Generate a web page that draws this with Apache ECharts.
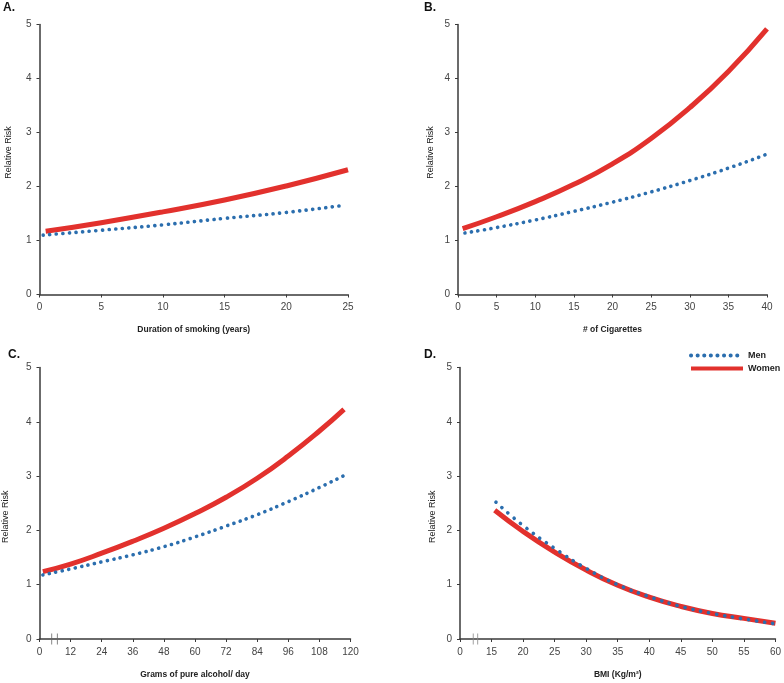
<!DOCTYPE html>
<html><head><meta charset="utf-8">
<script src="https://cdn.jsdelivr.net/npm/echarts@6/dist/echarts.min.js"></script>
<style>html,body{margin:0;padding:0;background:#fff}#c{width:784px;height:683px}</style>
</head><body><div id="c"></div>
<script>
// Panel A: duration of smoking (years)
const aWomenX = [0.5, 5, 10, 15, 20, 25];
const aWomenY = [1.17, 1.33, 1.53, 1.75, 2.01, 2.31];
const aMenX = [0.3, 5, 10, 15, 20, 24.6];
const aMenY = [1.10, 1.19, 1.29, 1.41, 1.52, 1.65];
// Panel B: # of cigarettes
const bWomenX = [0.6, 5, 10, 15, 20, 25, 30, 35, 40];
const bWomenY = [1.22, 1.44, 1.72, 2.04, 2.42, 2.89, 3.46, 4.13, 4.92];
const bMenX = [0.9, 5, 10, 15, 20, 25, 30, 35, 40];
const bMenY = [1.14, 1.24, 1.38, 1.54, 1.71, 1.90, 2.11, 2.34, 2.60];
// Panel C: grams of pure alcohol / day
const cX = [1.3, 12, 24, 36, 48, 60, 72, 84, 96, 108, 117.5];
const cWomenY = [1.24, 1.38, 1.58, 1.80, 2.04, 2.31, 2.61, 2.96, 3.37, 3.83, 4.23];
const cMenY = [1.18, 1.29, 1.42, 1.55, 1.70, 1.88, 2.08, 2.29, 2.53, 2.79, 3.01];
// Panel D: BMI
const dWomenX = [15.5, 20, 25, 30, 35, 40, 45, 50, 55, 60];
const dWomenY = [2.37, 1.98, 1.60, 1.27, 0.99, 0.77, 0.60, 0.47, 0.38, 0.29];
const dMenX = [15.7, 20, 25, 30, 35, 40, 45, 50, 55, 60];
const dMenY = [2.52, 2.09, 1.67, 1.30, 1.00, 0.78, 0.60, 0.47, 0.37, 0.28];
// axis-break marks
const cBreakX = [4.7, 6.9];
const dBreakX = [12.1, 12.8];

const panelLabels = ['A.', 'B.', 'C.', 'D.'];
const xTitles = ['Duration of smoking (years)', '# of Cigarettes', 'Grams of pure alcohol/ day', 'BMI (Kg/m\u00b2)'];
const yTitle = 'Relative Risk';

const RED = '#e2312d', BLUE = '#2b6eae';
const FONT = 'Liberation Sans';
const pairs = (xs, ys) => xs.map((x, i) => [x, ys[i]]);

const grids = [
  {left: 39.5, top: 24.5, width: 308.5, height: 270},
  {left: 458, top: 24.5, width: 309, height: 270},
  {left: 39.5, top: 367.5, width: 311, height: 271.5},
  {left: 460, top: 367.5, width: 316, height: 271.5}
];
const xRanges = [
  {min: 0, max: 25, interval: 5},
  {min: 0, max: 40, interval: 5},
  {min: 0, max: 120, interval: 12},
  {min: 10, max: 60, interval: 5}
];
const yGaps = [26, 23, 29, 23];
const yNamePad = [[0, 0, 0, 14], [0, 0, 0, 14], [0, 27, 0, 0], [0, 27, 0, 0]];

const axisLine = {lineStyle: {color: '#3a3a3a', width: 1.5}};
const axisLabel = {color: '#444', fontSize: 10, fontFamily: FONT};

const xAxes = xRanges.map((r, i) => ({
  type: 'value', gridIndex: i, min: r.min, max: r.max, interval: r.interval,
  splitLine: {show: false}, axisLine: axisLine,
  axisTick: {show: true, length: 3, lineStyle: {color: '#3a3a3a'}},
  axisLabel: Object.assign({margin: 8, formatter: v => (i === 3 && v === 10) ? '0' : String(v)}, axisLabel),
  name: xTitles[i], nameLocation: 'middle', nameGap: 31,
  nameTextStyle: {fontSize: 8.5, fontWeight: 'bold', color: '#222', fontFamily: FONT}
}));
const yAxes = grids.map((g, i) => ({
  type: 'value', gridIndex: i, min: 0, max: 5, interval: 1,
  splitLine: {show: false}, axisLine: Object.assign({show: true}, axisLine),
  axisTick: {show: true, length: 3, lineStyle: {color: '#3a3a3a'}},
  axisLabel: Object.assign({margin: 8}, axisLabel),
  name: yTitle, nameLocation: 'middle', nameGap: yGaps[i],
  nameTextStyle: {fontSize: 9, color: '#222', fontFamily: FONT, padding: yNamePad[i]}
}));

const womenData = [pairs(aWomenX, aWomenY), pairs(bWomenX, bWomenY), pairs(cX, cWomenY), pairs(dWomenX, dWomenY)];
const menData = [pairs(aMenX, aMenY), pairs(bMenX, bMenY), pairs(cX, cMenY), pairs(dMenX, dMenY)];

const series = [];
for (let i = 0; i < 4; i++) {
  series.push({
    name: 'Women', type: 'line', xAxisIndex: i, yAxisIndex: i, data: womenData[i],
    smooth: 0.5, symbol: 'none', z: 2,
    lineStyle: {color: RED, width: 5}, itemStyle: {color: RED}
  });
  series.push({
    name: 'Men', type: 'line', xAxisIndex: i, yAxisIndex: i, data: menData[i],
    smooth: 0.5, symbol: 'none', z: 3,
    lineStyle: {color: BLUE, width: 3.6, type: [0.1, i === 3 ? 8 : 6.5], cap: 'round'}, itemStyle: {color: BLUE}
  });
}
series.push({
  type: 'scatter', xAxisIndex: 2, yAxisIndex: 2, data: cBreakX.map(x => [x, 0]),
  symbol: 'rect', symbolSize: [1, 11], itemStyle: {color: '#666'}, silent: true, z: 5
});
series.push({
  type: 'scatter', xAxisIndex: 3, yAxisIndex: 3, data: dBreakX.map(x => [x, 0]),
  symbol: 'rect', symbolSize: [1, 11], itemStyle: {color: '#888'}, silent: true, z: 5
});

const labelPos = [[3, 2], [424, 2], [8, 349], [424, 349]];
const titles = panelLabels.map((t, i) => ({
  text: t, left: labelPos[i][0], top: labelPos[i][1], padding: 0,
  textStyle: {fontSize: 12, fontWeight: 'bold', color: '#111', fontFamily: FONT}
}));

const chart = echarts.init(document.getElementById('c'), null, {renderer: 'canvas'});
chart.setOption({
  animation: false,
  backgroundColor: '#fff',
  title: titles,
  grid: grids,
  xAxis: xAxes,
  yAxis: yAxes,
  legend: {
    data: ['Men', 'Women'], orient: 'vertical', left: 689, top: 351, padding: 0,
    itemWidth: 52, itemHeight: 7, itemGap: 4,
    itemStyle: {opacity: 0},
    lineStyle: {width: 4},
    textStyle: {fontSize: 9, fontWeight: 'bold', color: '#222', fontFamily: FONT}
  },
  series: series
});
</script></body></html>
